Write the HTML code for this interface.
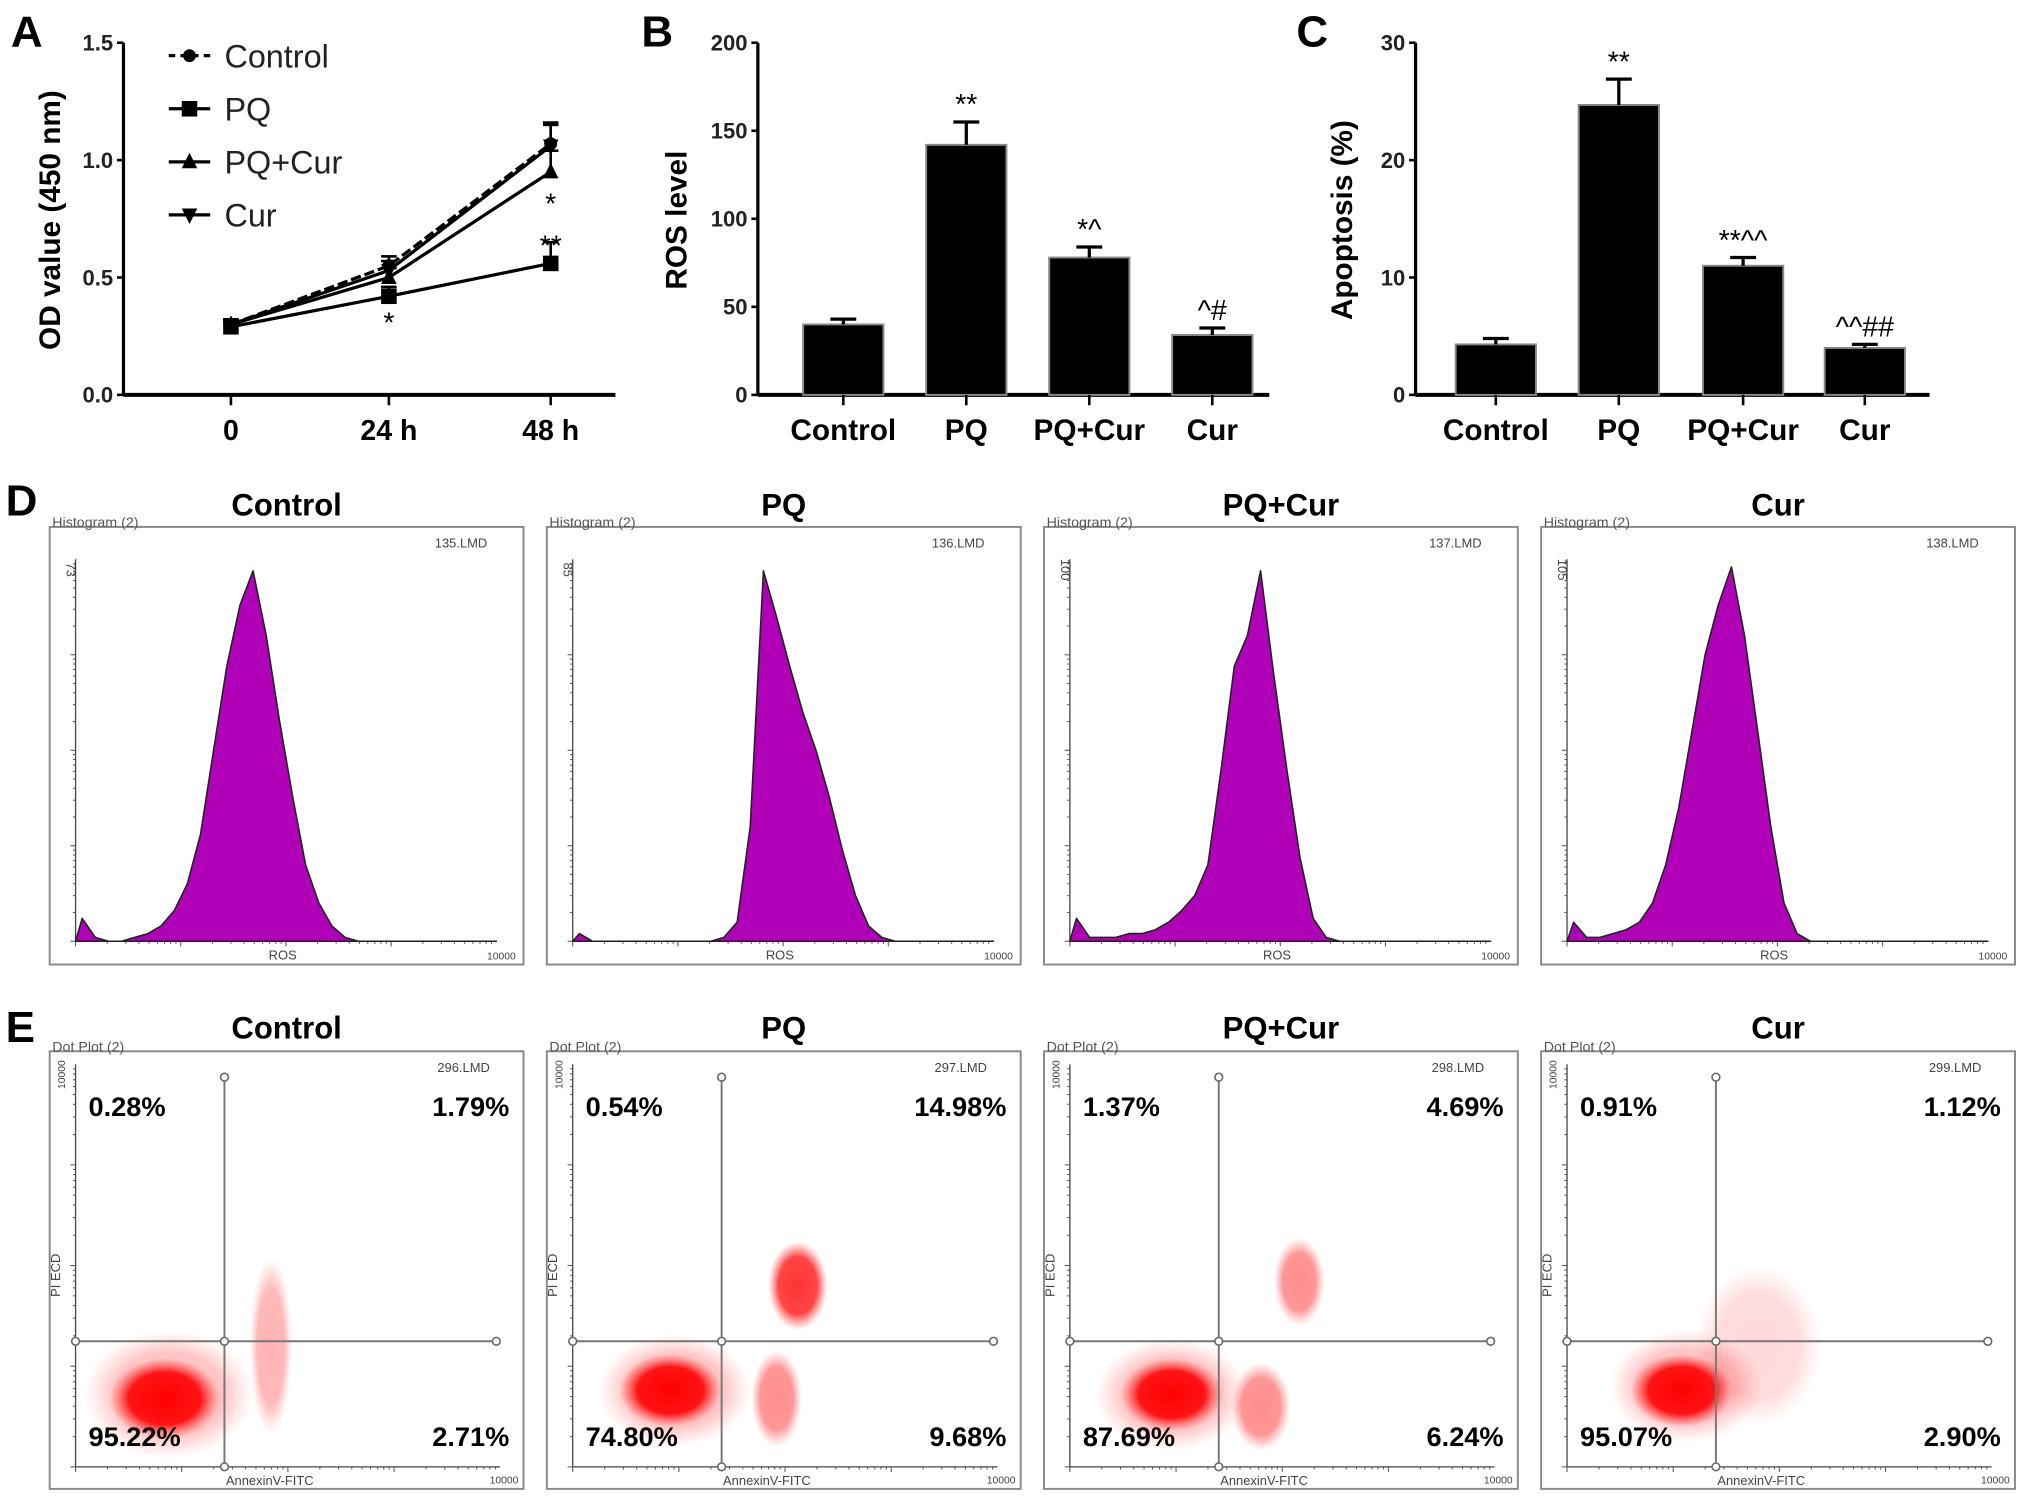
<!DOCTYPE html>
<html><head><meta charset="utf-8">
<style>
html,body{margin:0;padding:0;background:#fff;}
svg{display:block;font-family:"Liberation Sans",Arial,sans-serif;}
</style></head>
<body>
<svg id="fig" width="2031" height="1507" viewBox="0 0 1568 1164" xmlns="http://www.w3.org/2000/svg">
<defs>
<radialGradient id="dotg" cx="50%" cy="50%" r="50%">
<stop offset="0%" stop-color="#ff0000" stop-opacity="1"/>
<stop offset="65%" stop-color="#ff0a0a" stop-opacity="0.95"/>
<stop offset="100%" stop-color="#ff4040" stop-opacity="0"/>
</radialGradient>
</defs>
<g id="root"></g>
</svg>
<script>
// ---------- Panel A data ----------
const timeCats = ["0", "24 h", "48 h"];
const odTicks = ["0.0", "0.5", "1.0", "1.5"];
const seriesNames = ["Control", "PQ", "PQ+Cur", "Cur"];
const odControl = [0.30, 0.55, 1.07];
const odPQ = [0.29, 0.42, 0.56];
const odPQCur = [0.30, 0.50, 0.95];
const odCur = [0.30, 0.53, 1.06];
const odErr = [0.02, 0.04, 0.09];
// ---------- Panel B/C data ----------
const groupCats = ["Control", "PQ", "PQ+Cur", "Cur"];
const rosValues = [40, 142, 78, 34];
const rosErr = [3, 13, 6, 4];
const rosTicks = ["0", "50", "100", "150", "200"];
const rosNotes = ["", "**", "*^", "^#"];
const apoValues = [4.3, 24.7, 11.0, 4.0];
const apoErr = [0.5, 2.2, 0.7, 0.3];
const apoTicks = ["0", "10", "20", "30"];
const apoNotes = ["", "**", "**^^", "^^##"];
// ---------- Panel D data (relative counts per log bin) ----------
const histControl = [0.06,0.01,0,0,0.01,0.02,0.04,0.08,0.15,0.28,0.5,0.72,0.88,0.97,0.8,0.58,0.38,0.2,0.1,0.04,0.01,0,0,0,0,0,0,0,0,0,0,0];
const histPQ = [0.02,0,0,0,0,0,0,0,0,0,0,0.01,0.05,0.3,0.97,0.85,0.72,0.6,0.5,0.38,0.24,0.12,0.04,0.01,0,0,0,0,0,0,0,0];
const histPQCur = [0.06,0.01,0.01,0.01,0.02,0.02,0.03,0.05,0.08,0.12,0.2,0.45,0.72,0.8,0.97,0.7,0.45,0.22,0.06,0.01,0,0,0,0,0,0,0,0,0,0,0,0];
const histCur = [0.05,0.01,0.01,0.02,0.03,0.05,0.1,0.2,0.35,0.55,0.75,0.88,0.98,0.8,0.55,0.3,0.1,0.02,0,0,0,0,0,0,0,0,0,0,0,0,0,0];
const histMax = ["73", "85", "100", "105"];
const histFiles = ["135.LMD", "136.LMD", "137.LMD", "138.LMD"];
// ---------- Panel E data ----------
const dotFiles = ["296.LMD", "297.LMD", "298.LMD", "299.LMD"];
const quadUL = ["0.28%", "0.54%", "1.37%", "0.91%"];
const quadUR = ["1.79%", "14.98%", "4.69%", "1.12%"];
const quadLL = ["95.22%", "74.80%", "87.69%", "95.07%"];
const quadLR = ["2.71%", "9.68%", "6.24%", "2.90%"];
// clusters: [cx, cy, rx, ry, opacity] in axis fractions
const clustControl = [[0.22,0.18,0.20,0.16,0.25],[0.21,0.17,0.13,0.10,1],[0.46,0.30,0.05,0.22,0.3]];
const clustPQ = [[0.24,0.19,0.18,0.14,0.25],[0.23,0.19,0.12,0.09,1],[0.53,0.45,0.07,0.11,0.8],[0.48,0.17,0.06,0.12,0.45]];
const clustPQCur = [[0.24,0.18,0.18,0.14,0.25],[0.24,0.18,0.12,0.09,1],[0.45,0.15,0.07,0.11,0.45],[0.54,0.46,0.06,0.11,0.45]];
const clustCur = [[0.28,0.20,0.18,0.14,0.25],[0.27,0.19,0.12,0.09,1],[0.45,0.30,0.15,0.20,0.15]];

const NS = "http://www.w3.org/2000/svg";
const root = document.getElementById('root');
function mk(tag, attrs, parent, text){
  const e = document.createElementNS(NS, tag);
  for (const k in attrs) e.setAttribute(k, attrs[k]);
  if (text !== undefined) e.textContent = text;
  (parent || root).appendChild(e);
  return e;
}
function txt(x,y,s,size,opts,parent){
  opts = opts||{};
  const t = mk('text',{x:x,y:y,'font-size':size,'font-weight':opts.w||'normal','text-anchor':opts.a||'start',fill:opts.f||'#000'},parent,s);
  if (opts.rot) t.setAttribute('transform','rotate('+opts.rot+' '+x+' '+y+')');
  return t;
}

// ---------- Panel A ----------
const gA = mk('g',{});


const la = txt(8,36,"A",34,{w:'bold'},gA);


const A = {x0:95, x1:475, y0:305, y1:33, max:1.5};
const xA = [178,300,425];
function yA(v){ return A.y0 - v/A.max*(A.y0-A.y1); }
mk('line',{x1:A.x0,y1:A.y1,x2:A.x0,y2:A.y0,stroke:'#000','stroke-width':2.5},gA);
mk('line',{x1:A.x0,y1:A.y0,x2:A.x1,y2:A.y0,stroke:'#000','stroke-width':3},gA);
odTicks.forEach((t,i)=>{
  const v = i*0.5, y=yA(v);
  mk('line',{x1:A.x0-5,y1:y,x2:A.x0,y2:y,stroke:'#000','stroke-width':2},gA);
  const tl = txt(A.x0-8,y+6,t,17,{a:'end',w:'bold',f:'#222'},gA);
  
  
});
timeCats.forEach((c,i)=>{
  mk('line',{x1:xA[i],y1:A.y0,x2:xA[i],y2:A.y0+8,stroke:'#000','stroke-width':2},gA);
  const tl = txt(xA[i],A.y0+35,c,22,{a:'middle',w:'bold'},gA);
  
  
});
const ta = txt(46,170,"OD value (450 nm)",23,{a:'middle',w:'bold',rot:-90},gA);


function marker(kind,x,y,parent){
  if(kind===0) return mk('circle',{cx:x,cy:y,r:5,fill:'#000'},parent);
  if(kind===1) return mk('rect',{x:x-6,y:y-6,width:12,height:12,fill:'#000'},parent);
  if(kind===2) return mk('polygon',{points:(x-6)+','+(y+5)+' '+(x+6)+','+(y+5)+' '+x+','+(y-7),fill:'#000'},parent);
  return mk('polygon',{points:(x-6)+','+(y-5)+' '+(x+6)+','+(y-5)+' '+x+','+(y+7),fill:'#000'},parent);
}
const allOD = [odControl, odPQ, odPQCur, odCur];
allOD.forEach((s,k)=>{
  const g = mk('g',{},gA);
  
  
  const pts = s.map((v,i)=>xA[i]+','+yA(v)).join(' ');
  mk('polyline',{points:pts,fill:'none',stroke:'#000','stroke-width':2.5,'stroke-dasharray':k===0?'8,3':'none'},g);
  s.forEach((v,i)=>{
    const e = odErr[i];
    mk('line',{x1:xA[i],y1:yA(v+e),x2:xA[i],y2:yA(v),stroke:'#000','stroke-width':2},g);
    mk('line',{x1:xA[i]-6,y1:yA(v+e),x2:xA[i]+6,y2:yA(v+e),stroke:'#000','stroke-width':2},g);
    marker(k,xA[i],yA(v),g);
  });
});
txt(xA[1],yA(odPQ[1])+28,"*",22,{a:'middle'},gA);
txt(xA[2],yA(odPQCur[2])+32,"*",22,{a:'middle'},gA);
txt(xA[2],yA(odPQ[2])-6,"**",22,{a:'middle'},gA);
seriesNames.forEach((n,k)=>{
  const y = 43 + k*41;
  const g = mk('g',{},gA);
  
  
  mk('line',{x1:130,y1:y,x2:162,y2:y,stroke:'#000','stroke-width':2.5,'stroke-dasharray':k===0?'5,4':'none'},g);
  marker(k,146,y,g);
  txt(173,y+9,n,25,{f:'#222'},g);
});

// ---------- Bar panels ----------
function barPanel(name,letter,lx,ax,xEnd,centers,vals,errs,ticks,max,title,titleX,notes){
  const g = mk('g',{});
  
  
  const l = txt(lx,36,letter,34,{w:'bold'},g);
  
  
  const y0=305,y1=33;
  const y = v => y0 - v/max*(y0-y1);
  mk('line',{x1:ax,y1:y1,x2:ax,y2:y0,stroke:'#000','stroke-width':2.5},g);
  mk('line',{x1:ax,y1:y0,x2:xEnd,y2:y0,stroke:'#000','stroke-width':3},g);
  ticks.forEach((t,i)=>{
    const v = i*max/(ticks.length-1), yy=y(v);
    mk('line',{x1:ax-5,y1:yy,x2:ax,y2:yy,stroke:'#000','stroke-width':2},g);
    const tl = txt(ax-8,yy+6,t,17,{a:'end',w:'bold',f:'#222'},g);
    
    
  });
  const tt = txt(titleX,170,title,23,{a:'middle',w:'bold',rot:-90},g);
  
  
  groupCats.forEach((c,i)=>{
    const cx = centers[i], w=62;
    const r = mk('rect',{x:cx-w/2,y:y(vals[i]),width:w,height:y0-y(vals[i]),fill:'#000',stroke:'#888','stroke-width':1.5},g);
    
    
    const top = y(vals[i]+errs[i]);
    mk('line',{x1:cx,y1:top,x2:cx,y2:y(vals[i]),stroke:'#000','stroke-width':2.5},g);
    mk('line',{x1:cx-10,y1:top,x2:cx+10,y2:top,stroke:'#000','stroke-width':2.5},g);
    if(notes[i]) txt(cx,top-6,notes[i],22,{a:'middle'},g);
    mk('line',{x1:cx,y1:y0,x2:cx,y2:y0+8,stroke:'#000','stroke-width':2},g);
    const tl = txt(cx,y0+35,c,23,{a:'middle',w:'bold'},g);
    
    
  });
}
barPanel('panel-b-ros-bar-chart','B',495,585,980,[651,746,841,936],rosValues,rosErr,rosTicks,200,'ROS level',530,rosNotes);
barPanel('panel-c-apoptosis-bar-chart','C',1001,1093,1490,[1155,1250,1346,1440],apoValues,apoErr,apoTicks,30,'Apoptosis (%)',1044,apoNotes);

// ---------- Panel D ----------
const boxX = [38,422,806,1190];
const boxW = 366;
const ld = txt(4,398,"D",34,{w:'bold'});


const le = txt(4,805,"E",34,{w:'bold'});


const hists = [histControl,histPQ,histPQCur,histCur];
function minorTicks(g,x0,x1,yb,vertical,y0){
  for(let d=0; d<4; d++){
    for(let m=1; m<10; m++){
      const f = (d+Math.log10(m))/4;
      if(vertical){
        const yy = yb - f*(yb-y0);
        mk('line',{x1:x0-(m===1?4:2),y1:yy,x2:x0,y2:yy,stroke:'#555','stroke-width':0.8},g);
      } else {
        const xx = x0 + f*(x1-x0);
        mk('line',{x1:xx,y1:yb,x2:xx,y2:yb+(m===1?4:2),stroke:'#555','stroke-width':0.8},g);
      }
    }
  }
}
hists.forEach((h,k)=>{
  const g = mk('g',{});
  
  
  const bx = boxX[k], by=407, bh=338;
  const ttl = txt(bx+183,398,groupCats[k],24,{a:'middle',w:'bold'},g);
  
  
  mk('rect',{x:bx,y:by,width:boxW,height:bh,fill:'#fff',stroke:'#888','stroke-width':1.5},g);
  txt(bx+2,407,"Histogram (2)",11,{f:'#555'},g);
  txt(bx+338,423,histFiles[k],10,{a:'end',f:'#444'},g);
  const ax0=bx+20, ax1=bx+345, yb=727, yt=432;
  mk('line',{x1:ax0,y1:yt,x2:ax0,y2:yb,stroke:'#444','stroke-width':1},g);
  mk('line',{x1:ax0,y1:yb,x2:ax1,y2:yb,stroke:'#444','stroke-width':1},g);
  minorTicks(g,ax0,ax1,yb,true,yt);
  minorTicks(g,ax0,ax1,yb,false);
  txt(ax0-7,yt+8,histMax[k],10,{a:'middle',f:'#444',rot:90},g);
  txt(bx+180,741,"ROS",10,{a:'middle',f:'#444'},g);
  txt(bx+360,741,"10000",8,{a:'end',f:'#444'},g);
  const bw = (ax1-ax0)/h.length;
  let d = 'M'+ax0+','+yb;
  h.forEach((v,i)=>{
    const cx = ax0 + (i+0.5)*bw;
    d += ' L'+cx.toFixed(1)+','+(yb - v*(yb-yt)).toFixed(1);
  });
  d += ' L'+ax1+','+yb+' Z';
  const p = mk('path',{d:d,fill:'#b000b8',stroke:'#222','stroke-width':1.2,'stroke-linejoin':'round'},g);
  
  
});

// ---------- Panel E ----------
const clusts = [clustControl,clustPQ,clustPQCur,clustCur];
clusts.forEach((cl,k)=>{
  const g = mk('g',{});
  
  
  const bx = boxX[k], by=812, bh=338;
  const ttl = txt(bx+183,802,groupCats[k],24,{a:'middle',w:'bold'},g);
  
  
  mk('rect',{x:bx,y:by,width:boxW,height:bh,fill:'#fff',stroke:'#888','stroke-width':1.5},g);
  txt(bx+2,812,"Dot Plot (2)",11,{f:'#555'},g);
  txt(bx+340,828,dotFiles[k],10,{a:'end',f:'#444'},g);
  const ax0=bx+20, ax1=bx+348, yb=1133, yt=822;
  mk('line',{x1:ax0,y1:yt,x2:ax0,y2:yb,stroke:'#444','stroke-width':1},g);
  mk('line',{x1:ax0,y1:yb,x2:ax1,y2:yb,stroke:'#444','stroke-width':1},g);
  minorTicks(g,ax0,ax1,yb,true,yt);
  minorTicks(g,ax0,ax1,yb,false);
  txt(ax0-8,yt+8,"10000",8,{a:'middle',f:'#444',rot:-90},g);
  txt(ax0-12,985,"PI ECD",10,{a:'middle',f:'#444',rot:-90},g);
  txt(bx+170,1147,"AnnexinV-FITC",10,{a:'middle',f:'#444'},g);
  txt(bx+362,1146,"10000",8,{a:'end',f:'#444'},g);
  const X = f => ax0 + f*(ax1-ax0), Y = f => yb - f*(yb-yt);
  cl.forEach(c=>{
    const e = mk('ellipse',{cx:X(c[0]),cy:Y(c[1]),rx:c[2]*(ax1-ax0),ry:c[3]*(yb-yt),fill:'url(#dotg)',opacity:c[4]},g);
    
    
  });
  const qx = bx+135, qy = 1036;
  mk('line',{x1:qx,y1:832,x2:qx,y2:yb,stroke:'#777','stroke-width':1.5},g);
  mk('line',{x1:ax0,y1:qy,x2:bx+345,y2:qy,stroke:'#777','stroke-width':1.5},g);
  [[qx,832],[qx,qy],[qx,yb],[ax0,qy],[bx+345,qy]].forEach(p=>mk('circle',{cx:p[0],cy:p[1],r:3,fill:'#fff',stroke:'#666','stroke-width':1.2},g));
  const q1=txt(bx+30,862,quadUL[k],21,{w:'bold'},g);
  
  
  const q2=txt(bx+355,862,quadUR[k],21,{w:'bold',a:'end'},g);
  
  
  const q3=txt(bx+30,1117,quadLL[k],21,{w:'bold'},g);
  
  
  const q4=txt(bx+355,1117,quadLR[k],21,{w:'bold',a:'end'},g);
  
  
});
</script>
</body></html>
